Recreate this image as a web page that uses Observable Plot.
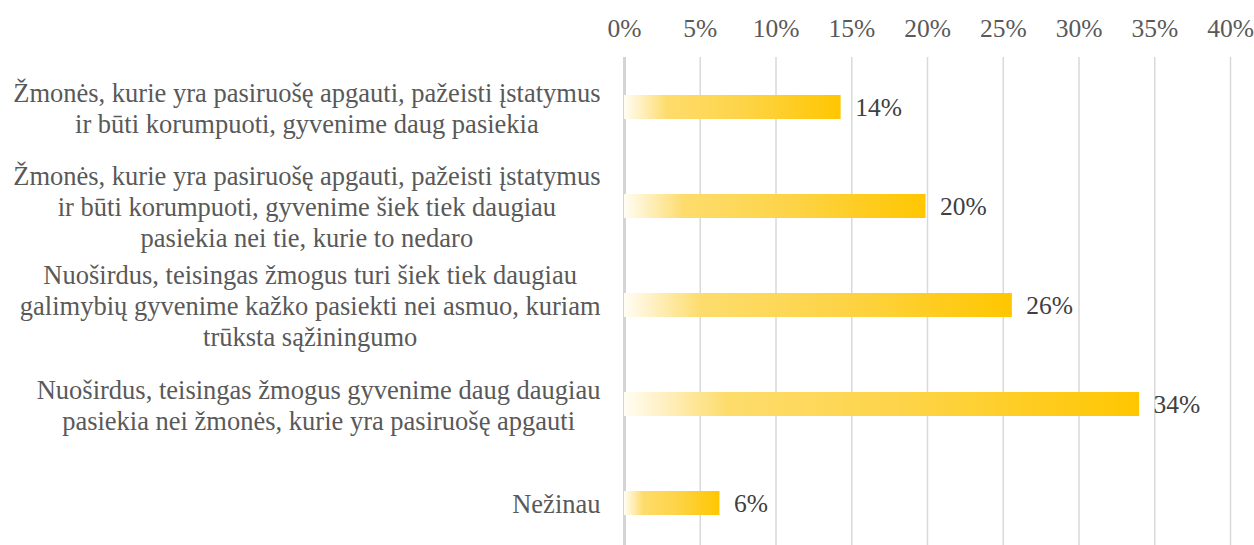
<!DOCTYPE html>
<html><head><meta charset="utf-8">
<script src="https://cdn.jsdelivr.net/npm/d3@7"></script>
<script src="https://cdn.jsdelivr.net/npm/@observablehq/plot@0.6"></script>
<style>
body{margin:0;background:#fff;overflow:hidden}
svg, svg text { font-family: "Liberation Serif", "Times New Roman", serif !important; }
</style>
</head><body><div id="chart"></div>
<script>
const categories = [
  "Žmonės, kurie yra pasiruošę apgauti, pažeisti įstatymus\nir būti korumpuoti, gyvenime daug pasiekia",
  "Žmonės, kurie yra pasiruošę apgauti, pažeisti įstatymus\nir būti korumpuoti, gyvenime šiek tiek daugiau\npasiekia nei tie, kurie to nedaro",
  "Nuoširdus, teisingas žmogus turi šiek tiek daugiau\ngalimybių gyvenime kažko pasiekti nei asmuo, kuriam\ntrūksta sąžiningumo",
  "Nuoširdus, teisingas žmogus gyvenime daug daugiau\npasiekia nei žmonės, kurie yra pasiruošę apgauti",
  "Nežinau"
];
const values = [14.3, 19.9, 25.6, 34.0, 6.3];
const valueLabels = ["14%", "20%", "26%", "34%", "6%"];
const ticks = [0, 5, 10, 15, 20, 25, 30, 35, 40];

const FONT = "Liberation Serif";
const FS = 26.5;   // category labels
const FS2 = 25.5;  // ticks and value labels
const data = categories.map((c, i) => ({category: c, value: values[i], label: valueLabels[i]}));

const ctx = document.createElement("canvas").getContext("2d");
ctx.font = `${FS}px "${FONT}"`;
const blockWidth = s => Math.max(...s.split("\n").map(l => ctx.measureText(l).width));

const labelMarks = data.map(d => Plot.text([d], {
  x: () => 0, y: "category", text: "category",
  textAnchor: "middle", lineAnchor: "middle",
  dx: -(24 + blockWidth(d.category) / 2),
  lineHeight: 31 / FS, fontSize: FS, fontFamily: FONT, fill: "#595959"
}));

const chart = Plot.plot({
  width: 1254, height: 545,
  marginLeft: 624, marginRight: 24, marginTop: 57, marginBottom: 0,
  style: {fontFamily: FONT, fontSize: FS2 + "px", color: "#595959", background: "#fff"},
  x: {domain: [0, 40], axis: null, label: null},
  y: {domain: categories, range: [57, 552], paddingInner: 0.76, paddingOuter: 0.38, axis: null},
  marks: [
    () => htmlDefs(),
    Plot.ruleX(ticks, {stroke: "#d9d9d9", strokeWidth: 1.5}),
    Plot.ruleX([0], {stroke: "#d4d4d4", strokeWidth: 3}),
    Plot.axisX(ticks, {anchor: "top", label: null, tickSize: 0, tickPadding: 21, tickFormat: d => d + "%", fontSize: FS2, fontFamily: FONT, fill: "#595959"}),
    Plot.barX(data, {x: "value", y: "category", fill: "url(#goldGrad)"}),
    Plot.text(data, {x: "value", y: "category", text: "label", textAnchor: "start", dx: 14, fontSize: FS2, fontFamily: FONT, fill: "#404040"}),
    ...labelMarks
  ]
});

function htmlDefs() {
  const ns = "http://www.w3.org/2000/svg";
  const defs = document.createElementNS(ns, "defs");
  const g = document.createElementNS(ns, "linearGradient");
  g.setAttribute("id", "goldGrad");
  g.setAttribute("x1", "0"); g.setAttribute("x2", "1"); g.setAttribute("y1", "0"); g.setAttribute("y2", "0");
  [[0, "#fffdf4"], [0.07, "#fff1c6"], [0.2, "#fddc6c"], [0.55, "#fdd448"], [1, "#ffc600"]].forEach(([o, c]) => {
    const s = document.createElementNS(ns, "stop");
    s.setAttribute("offset", o); s.setAttribute("stop-color", c);
    g.appendChild(s);
  });
  defs.appendChild(g);
  return defs;
}

document.getElementById("chart").appendChild(chart);
</script>
</body></html>
